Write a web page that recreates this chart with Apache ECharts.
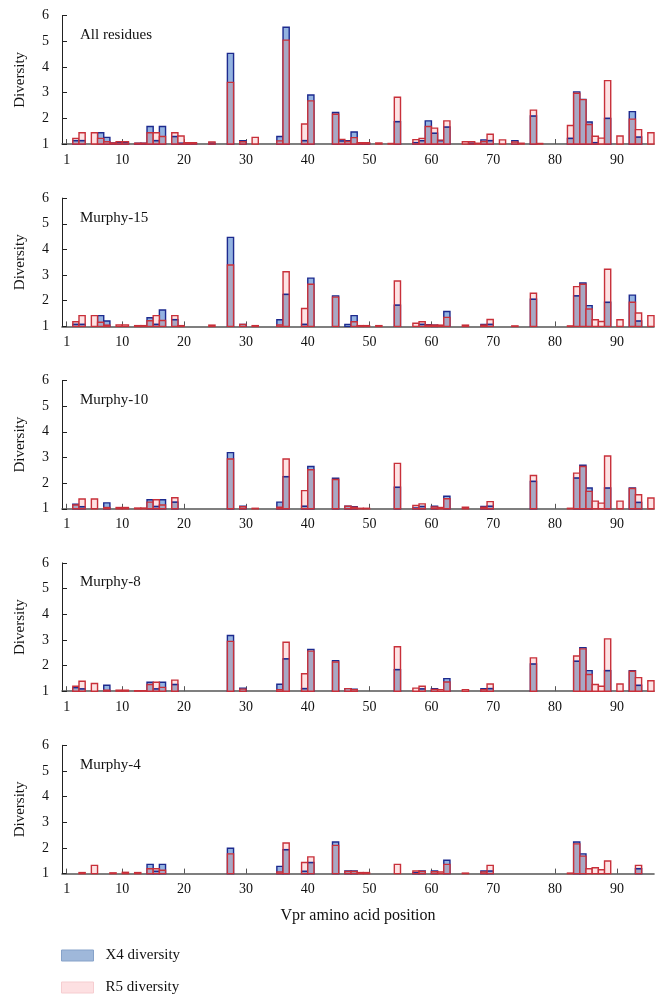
<!DOCTYPE html>
<html>
<head>
<meta charset="utf-8">
<script src="https://cdn.jsdelivr.net/npm/echarts@6/dist/echarts.min.js"></script>
<style>
html,body{margin:0;padding:0;background:#ffffff;}
#chart{width:669px;height:1001px;}
</style>
</head>
<body>
<div id="chart"></div>
<script>
// ---------------- DATA ----------------
const POSITIONS = Array.from({length: 96}, (_, i) => i + 1); // Vpr residues 1..96
const PANEL_TITLES = ['All residues', 'Murphy-15', 'Murphy-10', 'Murphy-8', 'Murphy-4'];
const X_TICKS = [1, 10, 20, 30, 40, 50, 60, 70, 80, 90];
const SERIES_NAMES = ['X4 diversity', 'R5 diversity'];
const X_AXIS_NAME = 'Vpr amino acid position';
const Y_AXIS_NAME = 'Diversity';

// All residues
const allX4 = [
  1, 1, 1.13, 1.13, 1, 1, 1.44, 1.26, 1.04, 1.05,
  1.05, 1, 1.02, 1.02, 1.68, 1.13, 1.68, 1, 1.29, 1.03,
  1.03, 1.03, 1, 1, 1.03, 1, 1, 4.53, 1, 1.13,
  1, 1, 1, 1, 1, 1.29, 5.55, 1, 1, 1.13,
  2.91, 1, 1, 1, 2.23, 1.12, 1.13, 1.47, 1.03, 1.03,
  1, 1, 1, 1, 1.87, 1, 1, 1.05, 1.13, 1.90,
  1.42, 1.13, 1.66, 1, 1, 1, 1.03, 1, 1.16, 1.13,
  1, 1, 1, 1.13, 1, 1, 2.09, 1, 1, 1,
  1, 1, 1.22, 3.03, 2.74, 1.86, 1.05, 1, 2.00, 1,
  1, 1, 2.26, 1.27, 1, 1
];
const allR5 = [
  1, 1, 1.22, 1.44, 1, 1.44, 1.22, 1.09, 1.04, 1.09,
  1.09, 1, 1.03, 1.03, 1.44, 1.44, 1.29, 1, 1.44, 1.31,
  1.05, 1.05, 1, 1, 1.08, 1, 1, 3.40, 1, 1.09,
  1, 1.26, 1, 1, 1, 1.12, 5.05, 1, 1, 1.78,
  2.68, 1, 1, 1, 2.16, 1.18, 1.10, 1.25, 1.05, 1.05,
  1, 1.04, 1, 1.02, 2.82, 1, 1, 1.17, 1.22, 1.68,
  1.62, 1.15, 1.90, 1, 1, 1.09, 1.09, 1.03, 1.10, 1.38,
  1, 1.16, 1, 1.08, 1.03, 1, 2.32, 1.02, 1, 1,
  1, 1, 1.72, 2.98, 2.73, 1.76, 1.30, 1.23, 3.47, 1,
  1.31, 1, 1.97, 1.56, 1, 1.44
];
// Murphy-15
const m15X4 = [
  1, 1, 1.08, 1.08, 1, 1, 1.42, 1.21, 1, 1,
  1, 1, 1, 1, 1.34, 1.08, 1.64, 1, 1.26, 1,
  1, 1, 1, 1, 1, 1, 1, 4.47, 1, 1.08,
  1, 1, 1, 1, 1, 1.26, 2.25, 1, 1, 1.08,
  2.88, 1, 1, 1, 2.19, 1, 1.08, 1.42, 1, 1,
  1, 1, 1, 1, 1.83, 1, 1, 1, 1.08, 1.07,
  1.05, 1, 1.58, 1, 1, 1, 1, 1, 1.08, 1.08,
  1, 1, 1, 1, 1, 1, 2.06, 1, 1, 1,
  1, 1, 1, 2.19, 2.69, 1.81, 1, 1, 1.94, 1,
  1, 1, 2.22, 1.21, 1, 1
];
const m15R5 = [
  1, 1, 1.18, 1.42, 1, 1.42, 1.16, 1.05, 1, 1.06,
  1.06, 1, 1.03, 1.03, 1.22, 1.42, 1.23, 1, 1.42, 1.03,
  1, 1, 1, 1, 1.05, 1, 1, 3.39, 1, 1.08,
  1, 1.03, 1, 1, 1, 1.06, 3.13, 1, 1, 1.70,
  2.64, 1, 1, 1, 2.14, 1, 1, 1.18, 1.03, 1.03,
  1, 1.03, 1, 1, 2.77, 1, 1, 1.12, 1.18, 1.05,
  1.05, 1.05, 1.35, 1, 1, 1.05, 1, 1, 1.05, 1.27,
  1, 1, 1, 1.02, 1, 1, 2.29, 1, 1, 1,
  1, 1, 1.02, 2.55, 2.64, 1.68, 1.26, 1.19, 3.23, 1,
  1.26, 1, 1.94, 1.52, 1, 1.42
];
// Murphy-10
const m10X4 = [
  1, 1, 1.18, 1.08, 1, 1, 1, 1.23, 1, 1,
  1, 1, 1, 1, 1.35, 1.09, 1.35, 1, 1.26, 1,
  1, 1, 1, 1, 1, 1, 1, 3.19, 1, 1.10,
  1, 1, 1, 1, 1, 1.26, 2.25, 1, 1, 1.10,
  2.65, 1, 1, 1, 2.19, 1, 1.10, 1.08, 1, 1,
  1, 1, 1, 1, 1.84, 1, 1, 1.03, 1.09, 1,
  1.10, 1, 1.49, 1, 1, 1, 1, 1, 1.09, 1.10,
  1, 1, 1, 1, 1, 1, 2.07, 1, 1, 1,
  1, 1, 1, 2.20, 2.70, 1.81, 1, 1, 1.81, 1,
  1, 1, 1.81, 1.25, 1, 1
];
const m10R5 = [
  1, 1, 1.15, 1.38, 1, 1.38, 1, 1.05, 1, 1.05,
  1.05, 1, 1.03, 1.03, 1.26, 1.35, 1.15, 1, 1.43, 1,
  1, 1, 1, 1, 1, 1, 1, 2.94, 1, 1.08,
  1, 1.02, 1, 1, 1, 1.06, 2.94, 1, 1, 1.71,
  2.52, 1, 1, 1, 2.14, 1, 1.10, 1.06, 1.02, 1.02,
  1, 1, 1, 1, 2.77, 1, 1, 1.13, 1.19, 1,
  1.07, 1.05, 1.39, 1, 1, 1.06, 1, 1, 1.06, 1.28,
  1, 1, 1, 1, 1, 1, 2.30, 1, 1, 1,
  1, 1, 1.02, 2.39, 2.65, 1.68, 1.30, 1.22, 3.06, 1,
  1.30, 1, 1.79, 1.55, 1, 1.42
];
// Murphy-8
const m8X4 = [
  1, 1, 1.14, 1.09, 1, 1, 1, 1.23, 1, 1,
  1, 1, 1, 1, 1.35, 1.09, 1.35, 1, 1.26, 1,
  1, 1, 1, 1, 1, 1, 1, 3.17, 1, 1.12,
  1, 1, 1, 1, 1, 1.27, 2.26, 1, 1, 1.10,
  2.63, 1, 1, 1, 2.19, 1, 1.10, 1.08, 1, 1,
  1, 1, 1, 1, 1.84, 1, 1, 1, 1.09, 1,
  1.10, 1, 1.49, 1, 1, 1, 1, 1, 1.10, 1.10,
  1, 1, 1, 1, 1, 1, 2.06, 1, 1, 1,
  1, 1, 1, 2.17, 2.70, 1.80, 1, 1, 1.80, 1,
  1, 1, 1.80, 1.23, 1, 1
];
const m8R5 = [
  1, 1, 1.19, 1.39, 1, 1.30, 1, 1.04, 1, 1.04,
  1.04, 1, 1.02, 1.02, 1.26, 1.35, 1.15, 1, 1.43, 1,
  1, 1, 1, 1, 1, 1, 1, 2.94, 1, 1.08,
  1, 1, 1, 1, 1, 1.06, 2.91, 1, 1, 1.68,
  2.56, 1, 1, 1, 2.14, 1, 1.10, 1.06, 1, 1,
  1, 1, 1, 1, 2.73, 1, 1, 1.12, 1.19, 1,
  1.07, 1.06, 1.36, 1, 1, 1.06, 1, 1, 1.06, 1.28,
  1, 1, 1, 1, 1, 1, 2.30, 1, 1, 1,
  1, 1, 1, 2.37, 2.65, 1.65, 1.26, 1.19, 3.04, 1,
  1.28, 1, 1.78, 1.53, 1, 1.41
];
// Murphy-4
const m4X4 = [
  1, 1, 1, 1, 1, 1, 1, 1, 1, 1,
  1, 1, 1, 1, 1.36, 1.09, 1.36, 1, 1, 1,
  1, 1, 1, 1, 1, 1, 1, 1.99, 1, 1,
  1, 1, 1, 1, 1, 1.28, 1.93, 1, 1, 1.09,
  1.43, 1, 1, 1, 2.23, 1, 1.10, 1.10, 1, 1,
  1, 1, 1, 1, 1, 1, 1, 1.03, 1.10, 1,
  1.10, 1, 1.52, 1, 1, 1, 1, 1, 1.10, 1.10,
  1, 1, 1, 1, 1, 1, 1, 1, 1, 1,
  1, 1, 1, 2.23, 1.77, 1, 1, 1, 1, 1,
  1, 1, 1, 1.19, 1, 1
];
const m4R5 = [
  1, 1, 1, 1.04, 1, 1.32, 1, 1, 1.03, 1,
  1.05, 1, 1.04, 1, 1.19, 1.19, 1.13, 1, 1, 1,
  1, 1, 1, 1, 1, 1, 1, 1.77, 1, 1,
  1, 1, 1, 1, 1, 1.06, 2.19, 1, 1, 1.43,
  1.65, 1, 1, 1, 2.10, 1, 1.08, 1.08, 1.04, 1.04,
  1, 1, 1, 1, 1.36, 1, 1, 1.10, 1.08, 1,
  1.07, 1.06, 1.36, 1, 1, 1.02, 1, 1, 1.06, 1.32,
  1, 1, 1, 1, 1, 1, 1, 1, 1, 1,
  1, 1, 1.02, 2.16, 1.68, 1.19, 1.23, 1.15, 1.49, 1,
  1, 1, 1, 1.32, 1, 1
];

const PANEL_X4 = [allX4, m15X4, m10X4, m8X4, m4X4];
const PANEL_R5 = [allR5, m15R5, m10R5, m8R5, m4R5];

// ---------------- STYLE / LAYOUT ----------------
const FONT = '"Liberation Serif", "DejaVu Serif", serif';
const BLUE = '#93b3e1';
const NAVY = '#1d2a8e';
const PINK = '#fde3e4';
const RED = '#c8303a';
const OVERLAP = '#a8a8c4';
const GRID_LEFT = 62, GRID_W = 592, GRID_H = 128.3, GRID_TOP0 = 15.7, GRID_STEP = 182.4;

function renderX4(params, api) {
  const v = api.value(1);
  if (v <= 1.0001) return null;
  const p = api.value(0);
  const a = api.coord([p - 1, 1]);
  const b = api.coord([p, v]);
  return {
    type: 'rect',
    shape: {x: a[0], y: b[1], width: b[0] - a[0], height: a[1] - b[1]},
    style: {fill: BLUE, stroke: NAVY, lineWidth: 1.4}
  };
}

function renderR5(params, api) {
  const r = api.value(1);
  const x4 = api.value(2);
  const p = api.value(0);
  const children = [];
  const a = api.coord([p - 1, 1]);
  const right = api.coord([p, 1])[0];
  const w = right - a[0];
  if (r > 1.0001) {
    const b = api.coord([p, r]);
    children.push({type: 'rect', shape: {x: a[0], y: b[1], width: w, height: a[1] - b[1]}, style: {fill: PINK}});
  }
  const m = Math.min(r, x4);
  if (m > 1.0001) {
    const c = api.coord([p, m]);
    children.push({type: 'rect', shape: {x: a[0], y: c[1], width: w, height: a[1] - c[1]}, style: {fill: OVERLAP}});
  }
  if (x4 > 1.0001 && x4 < r) {
    const d = api.coord([p, x4]);
    children.push({type: 'line', shape: {x1: a[0], y1: d[1], x2: right, y2: d[1]}, style: {stroke: NAVY, lineWidth: 1.6}});
  }
  if (r > 1.0001) {
    const b = api.coord([p, r]);
    children.push({type: 'rect', shape: {x: a[0], y: b[1], width: w, height: a[1] - b[1]}, style: {fill: 'none', stroke: RED, lineWidth: 1.4}});
  }
  return {type: 'group', children: children};
}

const grids = [], xAxes = [], yAxes = [], series = [], titles = [];
for (let k = 0; k < 5; k++) {
  const top = GRID_TOP0 + k * GRID_STEP;
  grids.push({left: GRID_LEFT, top: top, width: GRID_W, height: GRID_H});
  titles.push({
    text: PANEL_TITLES[k], left: 80, top: top + 12, padding: 0,
    textStyle: {fontFamily: FONT, fontSize: 15, fontWeight: 'normal', color: '#111'}
  });
  xAxes.push({
    type: 'value', gridIndex: k, min: 0.25, max: 96,
    splitLine: {show: false},
    axisLine: {show: true, lineStyle: {color: '#555', width: 1.6}},
    axisTick: {show: true, inside: true, length: 5, customValues: X_TICKS, lineStyle: {color: '#555'}},
    axisLabel: {customValues: X_TICKS, fontFamily: FONT, fontSize: 14, color: '#111', margin: 9},
    name: k === 4 ? X_AXIS_NAME : '',
    nameLocation: 'middle', nameGap: 34,
    nameTextStyle: {fontFamily: FONT, fontSize: 16, color: '#111'}
  });
  yAxes.push({
    type: 'value', gridIndex: k, min: 1, max: 6, interval: 1,
    splitLine: {show: false},
    axisLine: {show: true, lineStyle: {color: '#222', width: 1}},
    axisTick: {show: true, inside: true, length: 5, lineStyle: {color: '#222'}},
    axisLabel: {fontFamily: FONT, fontSize: 14, color: '#111', margin: 13},
    name: Y_AXIS_NAME, nameLocation: 'middle', nameGap: 34,
    nameTextStyle: {fontFamily: FONT, fontSize: 15, color: '#111'}
  });
  const x4 = PANEL_X4[k], r5 = PANEL_R5[k];
  series.push({
    type: 'custom', name: SERIES_NAMES[0], xAxisIndex: k, yAxisIndex: k,
    renderItem: renderX4, encode: {x: 0, y: 1},
    itemStyle: {color: '#9fb8da'}, z: 2,
    data: POSITIONS.map((p, i) => [p, x4[i]])
  });
  series.push({
    type: 'custom', name: SERIES_NAMES[1], xAxisIndex: k, yAxisIndex: k,
    renderItem: renderR5, encode: {x: 0, y: 1},
    itemStyle: {color: '#fde0e2'}, z: 3,
    data: POSITIONS.map((p, i) => [p, r5[i], x4[i]])
  });
}

const chart = echarts.init(document.getElementById('chart'), null, {renderer: 'canvas'});
chart.setOption({
  animation: false,
  backgroundColor: '#ffffff',
  title: titles,
  grid: grids,
  xAxis: xAxes,
  yAxis: yAxes,
  legend: {
    orient: 'vertical', left: 61, top: 948, padding: 0,
    itemWidth: 32, itemHeight: 11, itemGap: 17, icon: 'rect',
    textStyle: {fontFamily: FONT, fontSize: 15, color: '#111', padding: [0, 0, 0, 7]},
    data: [
      {name: SERIES_NAMES[0], itemStyle: {color: '#9fb8da', borderColor: '#86a2c9', borderWidth: 1}},
      {name: SERIES_NAMES[1], itemStyle: {color: '#fde0e2', borderColor: '#f6cdd0', borderWidth: 1}}
    ]
  },
  series: series
});
</script>
</body>
</html>
